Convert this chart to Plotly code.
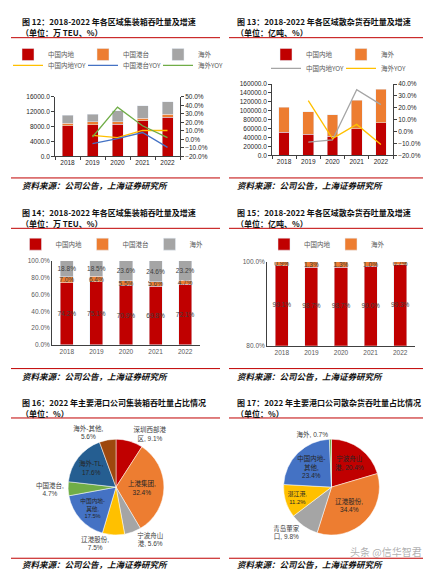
import plotly.graph_objects as go

W, H = 431, 573

years = ["2018", "2019", "2020", "2021", "2022"]

# fig 12 - container throughput (万TEU) and yoy (%)
ct_mainland = [8160, 8520, 8690, 9510, 10580]
ct_hk = [770, 726, 674, 763, 690]
ct_overseas = [2070, 2094, 2896, 3357, 3410]
ct_mainland_yoy = [None, 4.6, 2.0, 10.4, 10.4]
ct_hk_yoy = [None, -5.0, 0.8, 8.0, -9.6]
ct_overseas_yoy = [None, 2.7, 38.0, 16.0, 2.0]

# fig 13 - bulk throughput and yoy
bk_mainland = [51800, 46700, 43100, 59900, 73000]
bk_overseas = [56200, 51100, 47400, 63500, 75200]
bk_mainland_yoy = [None, -9.0, -7.1, 35.3, 22.7]
bk_overseas_yoy = [None, 26.0, -6.0, 6.0, -11.0]

# fig 14 - container share (%)
sh_ct_mainland = [74.2, 75.1, 70.9, 69.8, 72.1]
sh_ct_hk = [7.0, 6.4, 5.5, 5.6, 4.7]
sh_ct_overseas = [18.8, 18.5, 23.6, 24.6, 23.2]

# fig 15 - bulk share (%)
sh_bk_mainland = [99.1, 98.7, 98.7, 99.0, 99.3]
sh_bk_overseas = [0.9, 1.3, 1.3, 1.0, 0.7]

# fig 16 - 2022 container share by port company
pie16_labels = ["深圳西部港区", "上港集团", "宁波舟山港", "辽港股份", "中国内地-其他", "中国港台", "海外-TL", "海外-其他"]
pie16_wrap = ["深圳西部港<br>区, ", "上港集团,<br>", "宁波舟山<br>港, ", "辽港股份,<br>", "中国内地-<br>其他,<br>", "中国港台,<br>", "海外-TL,<br>", "海外-其他,<br>"]
pie16_values = [9.1, 32.4, 5.6, 7.5, 17.5, 4.7, 17.6, 5.6]
pie16_pos = ["outside", "inside", "outside", "outside", "inside", "outside", "inside", "outside"]

# fig 17 - 2022 bulk share by port company
pie17_labels = ["宁波舟山港", "辽港股份", "青岛董家口", "湛江港", "中国内地-其他", "海外"]
pie17_wrap = ["宁波舟山<br>港, ", "辽港股份,<br>", "青岛董家<br>口, ", "湛江港,<br>", "中国内地-<br>其他,<br>", "海外, "]
pie17_values = [20.4, 34.4, 9.8, 11.2, 23.4, 0.7]
pie17_pos = ["inside", "inside", "outside", "inside", "inside", "outside"]

RED = "#C00000"
ORANGE = "#ED7D31"
GRAY = "#A5A5A5"
YELLOW = "#FFC000"
BLUE = "#4472C4"
GREEN = "#70AD47"
DARKBLUE = "#255E91"
BROWN = "#9E480E"

FONT = "Liberation Sans, Noto Sans CJK SC"
CJK = "Noto Sans CJK SC"


def px_x(v):
    return v / W


def px_y(v):
    return 1 - v / H


fig = go.Figure()

# ---- fig 12
fig.add_trace(go.Bar(x=years, y=ct_mainland, name="中国内地", marker_color=RED, xaxis="x", yaxis="y", legend="legend"))
fig.add_trace(go.Bar(x=years, y=ct_hk, name="中国港台", marker_color=ORANGE, xaxis="x", yaxis="y", legend="legend"))
fig.add_trace(go.Bar(x=years, y=ct_overseas, name="海外", marker_color=GRAY, xaxis="x", yaxis="y", legend="legend"))
fig.add_trace(go.Scatter(x=years, y=ct_mainland_yoy, name="中国内地YOY", mode="lines", line=dict(color=YELLOW, width=1.3), xaxis="x", yaxis="y2", legend="legend2"))
fig.add_trace(go.Scatter(x=years, y=ct_hk_yoy, name="中国港台YOY", mode="lines", line=dict(color=BLUE, width=1.3), xaxis="x", yaxis="y2", legend="legend2"))
fig.add_trace(go.Scatter(x=years, y=ct_overseas_yoy, name="海外YOY", mode="lines", line=dict(color=GREEN, width=1.3), xaxis="x", yaxis="y2", legend="legend2"))

# ---- fig 13
fig.add_trace(go.Bar(x=years, y=bk_mainland, name="中国内地", marker_color=RED, xaxis="x2", yaxis="y3", legend="legend3"))
fig.add_trace(go.Bar(x=years, y=bk_overseas, name="海外", marker_color=ORANGE, xaxis="x2", yaxis="y3", legend="legend3"))
fig.add_trace(go.Scatter(x=years, y=bk_mainland_yoy, name="中国内地YOY", mode="lines", line=dict(color=GRAY, width=1.3), xaxis="x2", yaxis="y4", legend="legend4"))
fig.add_trace(go.Scatter(x=years, y=bk_overseas_yoy, name="海外YOY", mode="lines", line=dict(color=YELLOW, width=1.3), xaxis="x2", yaxis="y4", legend="legend4"))

lbl_font = dict(size=6.5, color="#404040", family=FONT)

# ---- fig 14
for vals, name, col in [(sh_ct_mainland, "中国内地", RED), (sh_ct_hk, "中国港台", ORANGE), (sh_ct_overseas, "海外", GRAY)]:
    fig.add_trace(go.Bar(x=years, y=[v / 100 for v in vals], name=name, marker_color=col,
                         text=[f"{v:.1f}%" for v in vals], textposition="inside", insidetextanchor="middle",
                         constraintext="none", textangle=0, textfont=lbl_font,
                         xaxis="x3", yaxis="y5", legend="legend5"))

# ---- fig 15 (axis starts at 80%, mainland labels sit mid-way in the visible part)
y6_low = 0.8
fig.add_trace(go.Bar(x=years, y=[v / 100 for v in sh_bk_mainland], name="中国内地", marker_color=RED,
                     xaxis="x4", yaxis="y6", legend="legend6"))
fig.add_trace(go.Bar(x=years, y=[v / 100 for v in sh_bk_overseas], name="海外", marker_color=ORANGE,
                     text=[f"{v:.1f}%" for v in sh_bk_overseas], textposition="inside", insidetextanchor="middle",
                     constraintext="none", textangle=0, textfont=lbl_font,
                     xaxis="x4", yaxis="y6", legend="legend6"))
fig.add_trace(go.Scatter(x=years, y=[(y6_low + v / 100) / 2 for v in sh_bk_mainland], mode="text",
                         text=[f"{v:.1f}%" for v in sh_bk_mainland], textfont=lbl_font, showlegend=False,
                         xaxis="x4", yaxis="y6", hoverinfo="skip"))

# ---- pies
fig.add_trace(go.Pie(labels=pie16_labels, values=pie16_values, sort=False, direction="clockwise",
                     marker=dict(colors=[RED, ORANGE, GRAY, YELLOW, BLUE, GREEN, DARKBLUE, BROWN], line=dict(color="white", width=0.5)),
                     text=[w + f"{v:.1f}%" for w, v in zip(pie16_wrap, pie16_values)], texttemplate="%{text}",
                     textposition=pie16_pos, insidetextorientation="horizontal",
                     insidetextfont=dict(size=6.5, color="#262626", family=FONT),
                     outsidetextfont=dict(size=6.5, color="#404040", family=FONT),
                     showlegend=False,
                     domain=dict(x=[px_x(59.5), px_x(156.5)], y=[px_y(529.5), px_y(432.5)])))
fig.add_trace(go.Pie(labels=pie17_labels, values=pie17_values, sort=False, direction="clockwise",
                     marker=dict(colors=[RED, ORANGE, GRAY, YELLOW, BLUE, GREEN], line=dict(color="white", width=0.5)),
                     text=[w + f"{v:.1f}%" for w, v in zip(pie17_wrap, pie17_values)], texttemplate="%{text}",
                     textposition=pie17_pos, insidetextorientation="horizontal",
                     insidetextfont=dict(size=6.5, color="#262626", family=FONT),
                     outsidetextfont=dict(size=6.5, color="#404040", family=FONT),
                     showlegend=False,
                     domain=dict(x=[px_x(275), px_x(372)], y=[px_y(529.5), px_y(432.5)])))

tick_font = dict(size=6.5, color="#262626", family=FONT)
tick_font_g = dict(size=6.5, color="#595959", family=FONT)
xcat = dict(type="category", showline=True, linecolor="#404040", linewidth=0.8, ticks="outside",
            tickson="boundaries", ticklen=3, tickcolor="#404040", tickfont=tick_font, showgrid=False)
yline = dict(showline=True, linecolor="#404040", linewidth=0.8, ticks="outside", ticklen=3,
             tickcolor="#404040", tickfont=tick_font, showgrid=False, zeroline=False)

legend_base = dict(orientation="h", font=dict(size=6.5, color="#595959", family=CJK),
                   bgcolor="rgba(0,0,0,0)", yanchor="middle", xanchor="left", traceorder="normal",
                   entrywidthmode="pixels", itemwidth=30, tracegroupgap=0)

fig.update_layout(
    width=W, height=H, margin=dict(l=0, r=0, t=0, b=0),
    paper_bgcolor="white", plot_bgcolor="white",
    barmode="stack", bargap=0.56,
    font=dict(family=FONT, size=7, color="#262626"),
    xaxis=dict(xcat, domain=[px_x(47), px_x(172)], anchor="y"),
    yaxis=dict(yline, domain=[px_y(146), px_y(86)], range=[0, 16000], dtick=4000, tickformat=".1f", anchor="x"),
    yaxis2=dict(yline, overlaying="y", side="right", range=[-20, 50], dtick=10, tickformat=".1f", ticksuffix="%", anchor="x"),
    xaxis2=dict(xcat, domain=[px_x(264), px_x(385)], anchor="y3"),
    yaxis3=dict(yline, domain=[px_y(145), px_y(73)], range=[0, 160000], dtick=20000, tickformat=".1f", anchor="x2"),
    yaxis4=dict(yline, overlaying="y3", side="right", range=[-20, 40], dtick=10, tickformat=".1f", ticksuffix="%", anchor="x2"),
    xaxis3=dict(xcat, domain=[px_x(44), px_x(192)], anchor="y5", tickfont=tick_font_g, ticks=""),
    yaxis5=dict(yline, domain=[px_y(337), px_y(252)], range=[0, 1], dtick=0.2, tickformat=".1%", anchor="x3",
                tickfont=tick_font_g, ticks=""),
    xaxis4=dict(xcat, domain=[px_x(259), px_x(407)], anchor="y6", tickfont=tick_font_g, ticks=""),
    yaxis6=dict(yline, domain=[px_y(338), px_y(253)], range=[y6_low, 1.0], tickvals=[0.8, 1.0], tickformat=".1%", anchor="x4",
                tickfont=tick_font_g, ticks=""),
    legend=dict(legend_base, x=px_x(0), y=px_y(43), entrywidth=30),
    legend2=dict(legend_base, x=px_x(0), y=px_y(54), entrywidth=30),
    legend3=dict(legend_base, x=px_x(258), y=px_y(43), entrywidth=30),
    legend4=dict(legend_base, x=px_x(258), y=px_y(57), entrywidth=30),
    legend5=dict(legend_base, x=px_x(108), xanchor="center", y=px_y(235), entrywidth=22),
    legend6=dict(legend_base, x=px_x(323), xanchor="center", y=px_y(235), entrywidth=22),
)

# titles, red rules and source notes
titles = [
    ("图 12：2018-2022 年各区域集装箱吞吐量及增速", "（单位：万 TEU、%）"),
    ("图 13：2018-2022 年各区域散杂货吞吐量及增速", "（单位：亿吨、%）"),
    ("图 14：2018-2022 年各区域集装箱吞吐量及增速", "（单位：万 TEU、%）"),
    ("图 15：2018-2022 年各区域散杂货吞吐量及增速", "（单位：亿吨、%）"),
    ("图 16：2022 年主要港口公司集装箱吞吐量占比情况", "（单位：%）"),
    ("图 17：2022 年主要港口公司散杂货吞吐量占比情况", "（单位：%）"),
]
row_top = [10, 203, 395]
row_rule = [26, 219, 411]
row_bottom = [168, 361, 553]
row_source = [175, 368, 559]
col_x = [12, 227]
col_rule = [(3, 212), (221, 427)]

for i, (t1, t2) in enumerate(titles):
    r, c = divmod(i, 2)
    fig.add_annotation(x=px_x(col_x[c]), y=px_y(row_top[r]), xref="paper", yref="paper", xanchor="left", yanchor="middle",
                       text=f"<b>{t1}</b>", showarrow=False, font=dict(size=8, color="#111", family=CJK))
    fig.add_annotation(x=px_x(col_x[c] - 1), y=px_y(row_top[r] + 11), xref="paper", yref="paper", xanchor="left", yanchor="middle",
                       text=f"<b>{t2}</b>", showarrow=False, font=dict(size=8, color="#111", family=CJK))
    fig.add_annotation(x=px_x(col_x[c]), y=px_y(row_source[r]), xref="paper", yref="paper", xanchor="left", yanchor="middle",
                       text="<b><i>资料来源：公司公告，上海证券研究所</i></b>", showarrow=False,
                       font=dict(size=8.5, color="#111", family=CJK))
    for yy in (row_rule[r], row_bottom[r]):
        fig.add_shape(type="line", xref="paper", yref="paper", x0=px_x(col_rule[c][0]), x1=px_x(col_rule[c][1]),
                      y0=px_y(yy), y1=px_y(yy), line=dict(color=RED, width=1))

fig.add_annotation(x=px_x(416), y=px_y(546), xref="paper", yref="paper", xanchor="right", yanchor="middle",
                   text="头条 @信华智君", showarrow=False, font=dict(size=10, color="rgba(120,120,120,0.6)", family=CJK))

fig.write_html("out.html")
